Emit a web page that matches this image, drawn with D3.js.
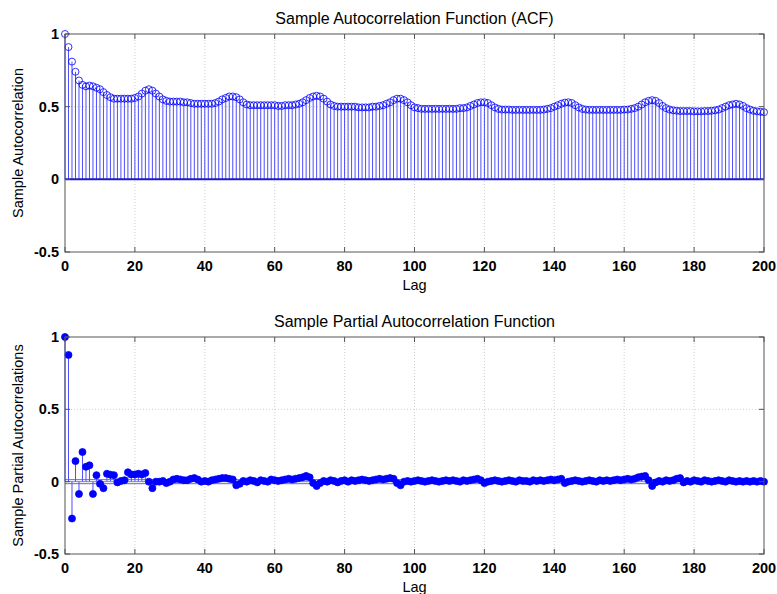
<!DOCTYPE html>
<html>
<head>
<meta charset="utf-8">
<script src="https://cdn.jsdelivr.net/npm/d3@7"></script>
<style>
  body { margin: 0; background: #fff; }
  svg text { font-family: "Liberation Sans", Arial, sans-serif; }
</style>
</head>
<body>
<svg id="chart" width="777" height="594"></svg>
<script>
// ---- data ----
const xTicks = [0, 20, 40, 60, 80, 100, 120, 140, 160, 180, 200];
const yTicks = [-0.5, 0, 0.5, 1];
const yTickLabels = ["-0.5", "0", "0.5", "1"];

// sample ACF, lags 0..200
const acfValues = [
  1.00, 0.91, 0.81, 0.74, 0.68, 0.65, 0.64, 0.645, 0.64, 0.63, 0.62, 0.60, 0.58, 0.565,
  0.555, 0.555, 0.555, 0.555, 0.555, 0.555, 0.56,
  0.57, 0.59, 0.61, 0.62, 0.61, 0.59, 0.57,
  0.55, 0.54, 0.535, 0.535, 0.535, 0.535, 0.53, 0.53,
  0.525, 0.52, 0.52, 0.52, 0.52, 0.52, 0.52, 0.525, 0.535,
  0.55, 0.56, 0.57, 0.57, 0.565, 0.55, 0.53,
  0.515, 0.51, 0.51, 0.51, 0.51, 0.51, 0.51, 0.51, 0.51, 0.505, 0.505, 0.51, 0.51, 0.51, 0.515, 0.52, 0.53,
  0.545, 0.56, 0.57, 0.575, 0.57, 0.555, 0.535,
  0.515, 0.505, 0.50, 0.50, 0.50, 0.50, 0.50, 0.50, 0.495, 0.495, 0.495, 0.495, 0.50, 0.50, 0.505, 0.51, 0.52,
  0.53, 0.545, 0.555, 0.555, 0.545, 0.53, 0.51,
  0.495, 0.49, 0.485, 0.485, 0.485, 0.485, 0.485, 0.485, 0.485, 0.485, 0.485, 0.485, 0.485, 0.49, 0.49, 0.495, 0.505,
  0.515, 0.525, 0.53, 0.53, 0.525, 0.51, 0.495,
  0.485, 0.48, 0.48, 0.48, 0.478, 0.478, 0.478, 0.478, 0.478, 0.478, 0.478, 0.478, 0.478, 0.48, 0.485, 0.49, 0.50,
  0.51, 0.52, 0.528, 0.53, 0.525, 0.51, 0.495,
  0.485, 0.48, 0.478, 0.478, 0.478, 0.478, 0.478, 0.478, 0.478, 0.478, 0.478, 0.478, 0.48, 0.48, 0.485, 0.49, 0.50,
  0.515, 0.53, 0.54, 0.545, 0.54, 0.525, 0.505,
  0.49, 0.48, 0.475, 0.472, 0.47, 0.47, 0.47, 0.47, 0.468, 0.468, 0.468, 0.47, 0.47, 0.472, 0.475, 0.48, 0.49,
  0.50, 0.51, 0.515, 0.52, 0.515, 0.505, 0.49,
  0.48, 0.472, 0.468, 0.465, 0.462
];

// sample PACF, lags 0..200
const pacfValues = [
  1.0, 0.876, -0.255, 0.142, -0.085, 0.205, 0.103, 0.113, -0.085, 0.045, -0.015, -0.045, 0.055, 0.048, 0.045, -0.005, 0.005, 0.01, 0.065, 0.05, 0.05, 0.055, 0.05, 0.06, 0.0,
  -0.045, 0.0, 0.0, 0.005, -0.01, 0.0, 0.015, 0.02, 0.015, 0.01, 0.01, 0.02, 0.025, 0.015, 0.0, 0.005, 0.0, 0.01, 0.015, 0.02, 0.025, 0.025, 0.02, 0.015, -0.025,
  -0.015, 0.005, 0.0, 0.01, 0.005, -0.005, 0.01, 0.005, 0.0, 0.015, 0.01, 0.005, 0.01, 0.015, 0.02, 0.015, 0.02, 0.025, 0.03, 0.04, 0.03, -0.01, -0.03, -0.01, 0.005,
  0.0, 0.01, 0.005, -0.005, 0.005, 0.01, 0.0, 0.01, 0.005, 0.01, 0.015, 0.01, 0.005, 0.01, 0.015, 0.02, 0.015, 0.02, 0.025, 0.02, -0.01, -0.025, 0.0, 0.005, 0.0,
  0.005, 0.01, 0.005, 0.0, 0.005, 0.01, 0.005, 0.0, 0.005, 0.01, 0.005, 0.01, 0.005, 0.0, 0.01, 0.005, 0.01, 0.015, 0.02, 0.01, -0.01, 0.0, 0.005, 0.01, 0.005,
  0.0, 0.005, 0.01, 0.005, 0.0, 0.01, 0.005, 0.005, 0.0, 0.01, 0.005, 0.01, 0.005, 0.01, 0.015, 0.01, 0.015, 0.02, -0.01, 0.0, 0.005, 0.01, 0.005, 0.0, 0.005,
  0.01, 0.005, 0.0, 0.01, 0.005, 0.01, 0.005, 0.01, 0.015, 0.01, 0.015, 0.02, 0.015, 0.02, 0.03, 0.035, 0.04, 0.01, -0.03, -0.005, 0.005, 0.0, 0.01, 0.005, 0.01,
  0.02, 0.025, -0.005, 0.005, 0.0, 0.01, 0.005, 0.0, 0.01, 0.005, 0.0, 0.005, 0.01, 0.005, 0.0, 0.01, 0.005, 0.0, 0.005, 0.0, 0.005, 0.0, 0.005, 0.0, 0.005, 0.0
];

// approx. confidence bounds drawn near zero (PACF panel)
const bounds = [-0.014, 0.014];

const svg = d3.select('#chart');

const left = 65, right = 764;
const axisColor = '#555';

const x = d3.scaleLinear().domain([0, 200]).range([left, right]);

function drawPanel(top, bottom, values, title, ylabel, filled) {
  const y = d3.scaleLinear().domain([-0.5, 1]).range([bottom, top]);
  const g = svg.append('g');

  // grid (dotted)
  g.selectAll('.vgrid').data(xTicks.slice(1, -1)).enter().append('line')
    .attr('x1', d => x(d)).attr('x2', d => x(d))
    .attr('y1', top).attr('y2', bottom)
    .attr('stroke', '#c4c4c4').attr('stroke-width', 0.8).attr('stroke-dasharray', '1,2');
  g.selectAll('.hgrid').data([0, 0.5]).enter().append('line')
    .attr('x1', left).attr('x2', right)
    .attr('y1', d => y(d)).attr('y2', d => y(d))
    .attr('stroke', '#c4c4c4').attr('stroke-width', 0.8).attr('stroke-dasharray', '1,2');

  // stems
  g.selectAll('.stem').data(values).enter().append('line')
    .attr('x1', (d, i) => x(i)).attr('x2', (d, i) => x(i))
    .attr('y1', y(0)).attr('y2', d => y(d))
    .attr('stroke', '#0000ff').attr('stroke-width', 0.7);

  if (filled) {
    g.append('line')
      .attr('x1', left).attr('x2', right).attr('y1', y(0)).attr('y2', y(0))
      .attr('stroke', '#888').attr('stroke-width', 1);
    g.selectAll('.bound').data(bounds).enter().append('line')
      .attr('x1', left).attr('x2', right)
      .attr('y1', d => y(d)).attr('y2', d => y(d))
      .attr('stroke', '#5a5ab0').attr('stroke-width', 0.9);
  } else {
    g.append('line')
      .attr('x1', left).attr('x2', right).attr('y1', y(0)).attr('y2', y(0))
      .attr('stroke', '#1c1cc0').attr('stroke-width', 2);
  }

  // markers
  g.selectAll('.mk').data(values).enter().append('circle')
    .attr('cx', (d, i) => x(i)).attr('cy', d => y(d))
    .attr('r', 3.5)
    .attr('fill', filled ? '#0000ff' : 'none')
    .attr('stroke', '#0000ff').attr('stroke-width', 0.8);

  // box
  g.append('rect')
    .attr('x', left).attr('y', top)
    .attr('width', right - left).attr('height', bottom - top)
    .attr('fill', 'none').attr('stroke', axisColor).attr('stroke-width', 1);

  // inward ticks, all four sides
  const tl = 5;
  g.selectAll('.tb').data(xTicks).enter().append('line')
    .attr('x1', d => x(d)).attr('x2', d => x(d))
    .attr('y1', bottom).attr('y2', bottom - tl)
    .attr('stroke', axisColor);
  g.selectAll('.tt').data(xTicks).enter().append('line')
    .attr('x1', d => x(d)).attr('x2', d => x(d))
    .attr('y1', top).attr('y2', top + tl)
    .attr('stroke', axisColor);
  g.selectAll('.tl').data(yTicks).enter().append('line')
    .attr('x1', left).attr('x2', left + tl)
    .attr('y1', d => y(d)).attr('y2', d => y(d))
    .attr('stroke', axisColor);
  g.selectAll('.tr').data(yTicks).enter().append('line')
    .attr('x1', right).attr('x2', right - tl)
    .attr('y1', d => y(d)).attr('y2', d => y(d))
    .attr('stroke', axisColor);

  // tick labels
  g.selectAll('.xl').data(xTicks).enter().append('text')
    .attr('x', d => x(d)).attr('y', bottom + 19)
    .attr('text-anchor', 'middle')
    .attr('font-size', 14.5).attr('font-weight', 'bold').attr('fill', '#000')
    .text(d => d);
  g.selectAll('.yl').data(yTicks).enter().append('text')
    .attr('x', left - 6).attr('y', d => y(d) + 5)
    .attr('text-anchor', 'end')
    .attr('font-size', 14.5).attr('font-weight', 'bold').attr('fill', '#000')
    .text((d, i) => yTickLabels[i]);

  // titles
  g.append('text')
    .attr('x', (left + right) / 2).attr('y', top - 10)
    .attr('text-anchor', 'middle').attr('font-size', 16).attr('fill', '#000')
    .text(title);
  g.append('text')
    .attr('x', (left + right) / 2).attr('y', bottom + 38)
    .attr('text-anchor', 'middle').attr('font-size', 14.5).attr('fill', '#000')
    .text('Lag');
  g.append('text')
    .attr('transform', `translate(23, ${(top + bottom) / 2}) rotate(-90)`)
    .attr('text-anchor', 'middle').attr('font-size', 14.5).attr('fill', '#000')
    .text(ylabel);
}

drawPanel(34, 252, acfValues, 'Sample Autocorrelation Function (ACF)', 'Sample Autocorrelation', false);
drawPanel(337, 554, pacfValues, 'Sample Partial Autocorrelation Function', 'Sample Partial Autocorrelations', true);
</script>
</body>
</html>
